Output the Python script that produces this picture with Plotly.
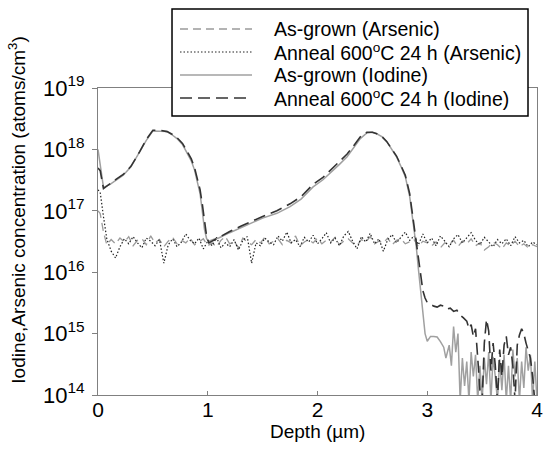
import numpy as np
import plotly.graph_objects as go

# ---------------- data ----------------
# Arsenic profiles (depth in um, concentration in atoms/cm3)
ars_depth = [0.0, 0.02, 0.05, 0.08] + list(np.round(np.arange(0.12, 4.0001, 0.04), 2))

ars_asgrown = [1.0e17, 9.0e16, 4.5e16, 2.8e16,
    3.4e16, 2.9e16, 3.6e16, 3.1e16, 3.8e16, 2.7e16, 3.3e16, 3.5e16, 2.8e16, 3.9e16, 3.0e16, 3.4e16,
    2.6e16, 3.2e16, 3.7e16, 2.9e16, 3.3e16, 3.0e16, 3.6e16, 2.8e16, 3.1e16, 3.5e16, 2.7e16,
    3.0e16, 2.6e16, 3.3e16, 3.8e16, 2.9e16, 3.2e16, 2.5e16, 3.6e16, 3.1e16, 2.8e16, 3.4e16, 3.0e16,
    3.7e16, 2.9e16, 3.2e16, 3.5e16, 2.8e16, 3.3e16, 3.0e16, 3.9e16, 2.7e16, 3.1e16, 3.4e16, 3.0e16, 3.6e16,
    2.9e16, 3.3e16, 3.1e16, 3.7e16, 2.8e16, 3.2e16, 3.5e16, 3.0e16, 2.7e16, 3.4e16, 3.1e16, 3.8e16,
    2.9e16, 3.2e16, 3.0e16, 3.6e16, 2.8e16, 3.3e16, 3.5e16, 2.9e16, 3.1e16, 3.4e16, 2.6e16, 3.2e16, 3.0e16,
    2.7e16, 3.1e16, 2.5e16, 3.0e16, 2.8e16, 3.3e16, 2.6e16, 3.2e16, 2.9e16, 3.5e16, 2.7e16, 3.0e16,
    2.3e16, 2.6e16, 3.1e16, 2.8e16, 2.4e16, 3.0e16, 2.7e16, 3.2e16, 2.6e16, 2.9e16, 2.5e16, 2.8e16, 2.6e16]

ars_anneal = [2.2e17, 2.0e17, 8.0e16, 3.5e16,
    2.2e16, 1.7e16, 2.6e16, 3.5e16, 2.9e16, 3.8e16, 3.0e16, 2.5e16, 3.6e16, 3.2e16, 2.7e16, 3.4e16,
    1.4e16, 2.8e16, 3.5e16, 2.6e16, 3.1e16, 4.2e16, 3.3e16, 2.9e16, 3.6e16, 2.4e16, 3.2e16,
    2.7e16, 3.7e16, 2.5e16, 3.0e16, 2.6e16, 3.4e16, 2.3e16, 3.3e16, 3.8e16, 1.4e16, 3.0e16, 2.7e16,
    3.6e16, 3.1e16, 2.8e16, 3.9e16, 3.2e16, 4.5e16, 3.0e16, 3.4e16, 2.6e16, 3.7e16, 3.1e16, 4.0e16, 2.9e16,
    3.5e16, 4.4e16, 3.0e16, 3.6e16, 2.7e16, 3.9e16, 4.6e16, 3.2e16, 2.4e16, 3.8e16, 3.1e16, 4.3e16,
    2.9e16, 3.5e16, 2.2e16, 3.4e16, 4.1e16, 3.0e16, 3.7e16, 4.5e16, 3.3e16, 3.9e16, 2.8e16, 4.2e16, 3.0e16,
    3.6e16, 2.7e16, 3.9e16, 3.2e16, 2.6e16, 3.5e16, 4.1e16, 3.0e16, 3.6e16, 4.4e16, 3.3e16, 2.8e16,
    3.7e16, 3.1e16, 2.6e16, 3.4e16, 2.9e16, 3.5e16, 2.7e16, 3.8e16, 3.0e16, 3.3e16, 2.6e16, 3.1e16, 2.8e16]

# Iodine, as-grown
iod_ag_depth = [0.00, 0.02, 0.05, 0.11, 0.17, 0.23, 0.30, 0.38, 0.44, 0.50, 0.56, 0.63, 0.68, 0.72,
    0.77, 0.81, 0.85, 0.88, 0.91, 0.93, 0.95, 0.97, 0.99, 1.01, 1.05, 1.10, 1.20, 1.30, 1.40, 1.50,
    1.63, 1.75, 1.85, 1.96, 2.05, 2.11, 2.20, 2.27, 2.33, 2.39, 2.45, 2.50, 2.54, 2.59, 2.63, 2.68,
    2.72, 2.76, 2.80, 2.84, 2.87, 2.90, 2.92, 2.94, 2.96, 2.98, 3.00, 3.03, 3.06, 3.09, 3.12, 3.15,
    3.17, 3.20, 3.22, 3.24, 3.26, 3.28, 3.30, 3.32, 3.34, 3.36, 3.38, 3.40, 3.42, 3.44, 3.46, 3.48,
    3.50, 3.52, 3.54, 3.56, 3.58, 3.60, 3.62, 3.64, 3.66, 3.68, 3.70, 3.72, 3.74, 3.76, 3.78, 3.80,
    3.82, 3.84, 3.86, 3.88, 3.90, 3.92, 3.94, 3.96, 3.98, 4.00]
iod_ag = [1.0e18, 6.0e17, 2.4e17, 2.7e17, 3.2e17, 3.8e17, 5.2e17, 9.0e17, 1.4e18, 2.0e18, 2.0e18,
    1.95e18, 1.7e18, 1.5e18, 1.2e18, 9.0e17, 6.5e17, 4.6e17, 2.8e17, 1.9e17, 1.0e17, 5.0e16, 3.5e16,
    3.2e16, 3.4e16, 3.6e16, 4.4e16, 5.3e16, 6.4e16, 7.6e16, 9.1e16, 1.17e17, 1.55e17, 2.45e17, 3.2e17,
    4.0e17, 5.7e17, 7.6e17, 1.05e18, 1.5e18, 1.85e18, 1.9e18, 1.8e18, 1.6e18, 1.35e18, 1.0e18, 7.6e17,
    5.3e17, 3.6e17, 1.7e17, 7.0e16, 2.6e16, 1.1e16, 5.0e15, 2.2e15, 1.0e15, 7.5e14, 9.0e14, 9.0e14,
    8.8e14, 7.4e14, 6.0e14, 4.0e14, 6.5e14, 3.0e14, 1.3e15, 5.0e14, 1.0e15, 8.0e13, 4.0e14, 1.4e14,
    3.5e14, 8.0e13, 5.0e14, 2.0e14, 4.5e14, 8.0e13, 3.0e14, 8.0e13, 4.0e14, 1.5e14, 5.0e14, 8.0e13,
    4.2e14, 2.0e14, 8.0e13, 3.8e14, 1.2e14, 4.5e14, 8.0e13, 3.0e14, 8.0e13, 5.5e14, 2.0e14, 4.0e14,
    8.0e13, 3.5e14, 1.3e14, 6.0e14, 2.5e14, 4.5e14, 8.0e13, 3.5e14, 8.0e13]

# Iodine, annealed 600 C 24 h
iod_an_depth = [0.00, 0.02, 0.05, 0.11, 0.17, 0.23, 0.30, 0.38, 0.44, 0.50, 0.56, 0.63, 0.68, 0.72,
    0.77, 0.81, 0.85, 0.88, 0.91, 0.93, 0.95, 0.97, 0.99, 1.01, 1.05, 1.10, 1.20, 1.30, 1.40, 1.50,
    1.63, 1.75, 1.85, 1.96, 2.05, 2.11, 2.20, 2.27, 2.33, 2.39, 2.45, 2.50, 2.54, 2.59, 2.63, 2.68,
    2.72, 2.76, 2.80, 2.84, 2.87, 2.90, 2.92, 2.94, 2.96, 2.98, 3.00, 3.03, 3.06, 3.09, 3.12, 3.15,
    3.18, 3.21, 3.24, 3.27, 3.30, 3.33, 3.36, 3.38, 3.40, 3.42, 3.44, 3.46, 3.48, 3.50, 3.52, 3.54,
    3.56, 3.58, 3.60, 3.62, 3.64, 3.66, 3.68, 3.70, 3.72, 3.74, 3.76, 3.78, 3.80, 3.82, 3.84, 3.86,
    3.88, 3.90, 3.92, 3.94, 3.96, 3.98, 4.00]
iod_an = [5.0e17, 4.5e17, 2.3e17, 2.8e17, 3.3e17, 3.9e17, 5.3e17, 9.2e17, 1.45e18, 2.05e18, 2.05e18,
    1.95e18, 1.75e18, 1.55e18, 1.25e18, 9.5e17, 7.0e17, 5.0e17, 3.2e17, 2.2e17, 1.3e17, 6.5e16, 3.8e16,
    3.0e16, 3.3e16, 3.7e16, 4.6e16, 5.6e16, 6.8e16, 8.1e16, 1.0e17, 1.3e17, 1.7e17, 2.7e17, 3.5e17,
    4.4e17, 6.3e17, 8.4e17, 1.15e18, 1.6e18, 1.9e18, 1.9e18, 1.8e18, 1.6e18, 1.35e18, 1.02e18, 7.8e17,
    5.5e17, 3.8e17, 1.9e17, 7.5e16, 3.2e16, 1.6e16, 8.0e15, 5.0e15, 3.8e15, 3.2e15, 3.0e15, 2.8e15,
    2.7e15, 2.9e15, 2.8e15, 2.5e15, 2.6e15, 2.3e15, 2.4e15, 2.0e15, 1.8e15, 1.6e15, 1.2e15, 1.4e15,
    9.0e14, 1.2e15, 4.0e14, 1.2e14, 8.0e13, 7.0e14, 1.7e15, 1.1e15, 2.5e14, 7.0e14, 3.0e14, 8.0e13,
    5.5e14, 2.0e14, 6.5e14, 9.0e14, 4.5e14, 6.0e14, 3.0e14, 8.0e13, 6.5e14, 9.5e14, 1.2e15, 1.0e15,
    7.0e14, 5.0e14, 4.0e14, 2.0e14, 8.0e13, 8.0e13]

series_names = ["As-grown (Arsenic)", "Anneal 600<sup>o</sup>C 24 h (Arsenic)",
                "As-grown (Iodine)", "Anneal 600<sup>o</sup>C 24 h (Iodine)"]

x_ticks = [0, 1, 2, 3, 4]
y_tickvals = [1e14, 1e15, 1e16, 1e17, 1e18, 1e19]
y_ticktext = ["10<sup>14</sup>", "10<sup>15</sup>", "10<sup>16</sup>", "10<sup>17</sup>",
              "10<sup>18</sup>", "10<sup>19</sup>"]

FONT = "Liberation Sans, Arial, sans-serif"

styles = [dict(color="#9a9a9a", width=1.3, dash="8px,5px"),
          dict(color="#222222", width=1.2, dash="1.5px,2px"),
          dict(color="#a0a0a0", width=1.5),
          dict(color="#333333", width=1.6, dash="12px,6px")]
xs = [ars_depth, ars_depth, iod_ag_depth, iod_an_depth]
ys = [ars_asgrown, ars_anneal, iod_ag, iod_an]

fig = go.Figure()
for x, y, nm, st in zip(xs, ys, series_names, styles):
    fig.add_trace(go.Scatter(x=x, y=y, mode="lines", name=nm, line=st, showlegend=False))

# hand-built legend box (compact rows like the original)
shapes = [dict(type="rect", xref="paper", yref="paper", x0=0.1686, x1=0.9795, y0=0.9088, y1=1.2573,
               fillcolor="white", line=dict(color="black", width=1.5), layer="above")]
annotations = []
row_y = [1.1922, 1.1173, 1.0423, 0.9674]
for ry, nm, st in zip(row_y, series_names, styles):
    shapes.append(dict(type="line", xref="paper", yref="paper", x0=0.1868, x1=0.3508, y0=ry, y1=ry,
                       line=st, layer="above"))
    annotations.append(dict(text=nm, xref="paper", yref="paper", x=0.3964, y=ry, xanchor="left",
                            yanchor="middle", showarrow=False,
                            font=dict(family=FONT, size=19.5, color="black")))

annotations.append(dict(text="Iodine,Arsenic concentration (atoms/cm<sup>3</sup>)", textangle=-90,
                        xref="paper", yref="paper", x=-0.185, y=0.603, xanchor="center",
                        yanchor="middle", showarrow=False,
                        font=dict(family=FONT, size=19, color="black")))
annotations.append(dict(text="Depth (\u00b5m)", xref="paper", yref="paper", x=0.5, y=-0.1185,
                        xanchor="center", yanchor="middle", showarrow=False,
                        font=dict(family=FONT, size=19, color="black")))

fig.update_layout(
    width=547, height=455,
    margin=dict(l=98, r=10, t=88, b=60, autoexpand=False),
    paper_bgcolor="white", plot_bgcolor="white",
    font=dict(family=FONT, size=19, color="black"),
    showlegend=False,
    xaxis=dict(range=[0, 4], tickvals=x_ticks, ticks="inside", ticklen=4, tickcolor="#808080",
               showline=True, linecolor="#808080", linewidth=1, mirror=True, showgrid=False,
               zeroline=False, tickfont=dict(size=21), ticklabelstandoff=-4),
    yaxis=dict(type="log", range=[14, 19], tickvals=y_tickvals, ticktext=y_ticktext,
               ticks="outside", ticklen=5, tickcolor="#808080",
               showline=True, linecolor="#808080", linewidth=1, mirror=True, showgrid=False,
               zeroline=False, tickfont=dict(size=22), ticklabelstandoff=3),
    shapes=shapes,
    annotations=annotations,
)

fig.write_html("out.html", config={"displayModeBar": False},
               post_script="document.body.style.margin='0';")
